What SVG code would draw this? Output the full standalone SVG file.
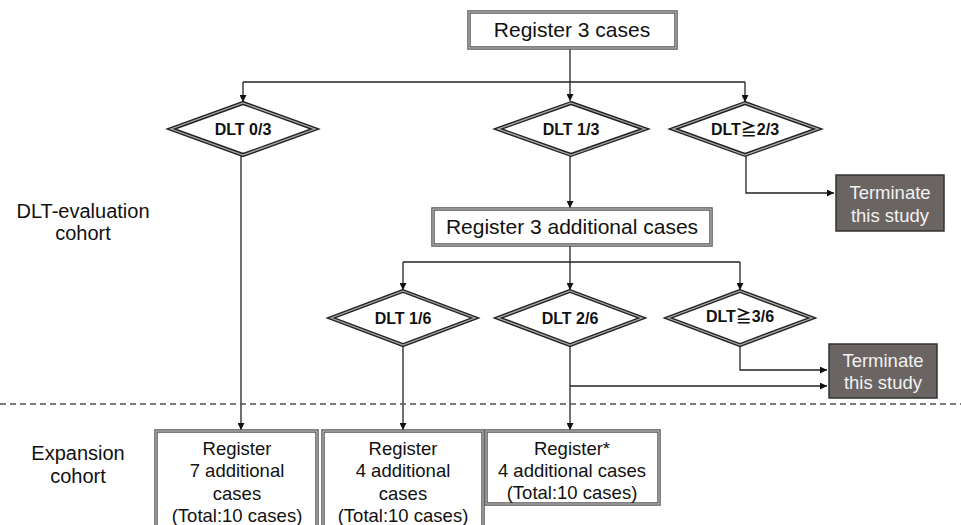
<svg xmlns="http://www.w3.org/2000/svg" width="961" height="525" viewBox="0 0 961 525">
<defs>
<style>
text{font-family:"Liberation Sans","Noto Sans CJK JP",Arial,sans-serif;fill:#111;text-anchor:middle}
.bo{fill:#fff;stroke:#555;stroke-width:3.5}
.bi{fill:none;stroke:#bbb;stroke-width:1.2}
.dO{fill:#fff;stroke:#222;stroke-width:4;stroke-linejoin:miter}
.dI{fill:none;stroke:#aaa;stroke-width:1.3}
.term{fill:#6a6462;stroke:#333;stroke-width:1.5}
.tt{fill:#f2f2f2;font-size:18.5px}
.dt{font-weight:bold;font-size:16px}
.bt{font-size:21px}
.st{font-size:18.5px}
.lt{font-size:20px}
.ln{fill:none;stroke:#222;stroke-width:1.3}
</style>
<marker id="ah" viewBox="0 0 10 10" refX="10" refY="5" markerWidth="7" markerHeight="7" orient="auto" markerUnits="userSpaceOnUse">
<path d="M0,0 L10,5 L0,10 z" fill="#111"/>
</marker>
</defs>
<rect width="961" height="525" fill="#fff"/>

<g id="connectors">
<path class="ln" d="M570,48 V101" marker-end="url(#ah)"/>
<path class="ln" d="M243,82 H745"/>
<path class="ln" d="M243,82 V102" marker-end="url(#ah)"/>
<path class="ln" d="M745,82 V102" marker-end="url(#ah)"/>
<path class="ln" d="M241,155 V430" marker-end="url(#ah)"/>
<path class="ln" d="M570,155 V208" marker-end="url(#ah)"/>
<path class="ln" d="M746,155 V193 H834" marker-end="url(#ah)"/>
<path class="ln" d="M570,246 V262"/>
<path class="ln" d="M403,262 H740"/>
<path class="ln" d="M403,262 V290" marker-end="url(#ah)"/>
<path class="ln" d="M570,262 V290" marker-end="url(#ah)"/>
<path class="ln" d="M740,262 V290" marker-end="url(#ah)"/>
<path class="ln" d="M403,345 V430" marker-end="url(#ah)"/>
<path class="ln" d="M570,345 V430" marker-end="url(#ah)"/>
<path class="ln" d="M740,345 V370 H827" marker-end="url(#ah)"/>
<path class="ln" d="M570,386 H827" marker-end="url(#ah)"/>
<path d="M0,404 H961" stroke="#555" stroke-width="1.5" stroke-dasharray="6,4" fill="none"/>
</g>

<g id="label-dlt-eval">
<text class="lt" x="83" y="218">DLT-evaluation</text>
<text class="lt" x="83" y="240">cohort</text>
</g>
<g id="label-expansion">
<text class="lt" x="78" y="460">Expansion</text>
<text class="lt" x="78" y="483">cohort</text>
</g>

<g id="register3">
<rect class="bo" x="469" y="12" width="207" height="36"/>
<rect class="bi" x="469" y="12" width="207" height="36"/>
<text class="bt" x="572" y="37">Register 3 cases</text>
</g>

<g id="dlt03">
<polygon class="dO" points="243,103 315,129 243,155 171,129"/>
<polygon class="dI" points="243,103 315,129 243,155 171,129"/>
<text class="dt" x="243" y="135">DLT 0/3</text>
</g>
<g id="dlt13">
<polygon class="dO" points="571,103 645,129 571,155 498,129"/>
<polygon class="dI" points="571,103 645,129 571,155 498,129"/>
<text class="dt" x="571" y="135">DLT 1/3</text>
</g>
<g id="dlt23">
<polygon class="dO" points="745,103 818,129 745,155 673,129"/>
<polygon class="dI" points="745,103 818,129 745,155 673,129"/>
<text class="dt" x="745" y="135">DLT≧2/3</text>
</g>

<g id="terminate1">
<rect class="term" x="836" y="175" width="108" height="56"/>
<text class="tt" x="890" y="199">Terminate</text>
<text class="tt" x="890" y="222">this study</text>
</g>

<g id="register3add">
<rect class="bo" x="433" y="209" width="278" height="36"/>
<rect class="bi" x="433" y="209" width="278" height="36"/>
<text class="bt" x="572" y="234">Register 3 additional cases</text>
</g>

<g id="dlt16">
<polygon class="dO" points="403,291 475,318 403,345 331,318"/>
<polygon class="dI" points="403,291 475,318 403,345 331,318"/>
<text class="dt" x="403" y="324">DLT 1/6</text>
</g>
<g id="dlt26">
<polygon class="dO" points="570,291 642,318 570,345 498,318"/>
<polygon class="dI" points="570,291 642,318 570,345 498,318"/>
<text class="dt" x="570" y="324">DLT 2/6</text>
</g>
<g id="dlt36">
<polygon class="dO" points="740,291 812,318 740,345 668,318"/>
<polygon class="dI" points="740,291 812,318 740,345 668,318"/>
<text class="dt" x="740" y="322">DLT≧3/6</text>
</g>

<g id="terminate2">
<rect class="term" x="829" y="344" width="108" height="54"/>
<text class="tt" x="883" y="367">Terminate</text>
<text class="tt" x="883" y="389">this study</text>
</g>

<g id="expand7">
<rect class="bo" x="156" y="431" width="161" height="100"/>
<rect class="bi" x="156" y="431" width="161" height="100"/>
<text class="st" x="237" y="455">Register</text>
<text class="st" x="237" y="477">7 additional</text>
<text class="st" x="237" y="500">cases</text>
<text class="st" x="237" y="522">(Total:10 cases)</text>
</g>
<g id="expand4a">
<rect class="bo" x="323" y="431" width="160" height="100"/>
<rect class="bi" x="323" y="431" width="160" height="100"/>
<text class="st" x="403" y="455">Register</text>
<text class="st" x="403" y="477">4 additional</text>
<text class="st" x="403" y="500">cases</text>
<text class="st" x="403" y="522">(Total:10 cases)</text>
</g>
<g id="expand4b">
<rect class="bo" x="486" y="431" width="173" height="73"/>
<rect class="bi" x="486" y="431" width="173" height="73"/>
<text class="st" x="572" y="455">Register*</text>
<text class="st" x="572" y="477">4 additional cases</text>
<text class="st" x="572" y="499">(Total:10 cases)</text>
</g>
</svg>
